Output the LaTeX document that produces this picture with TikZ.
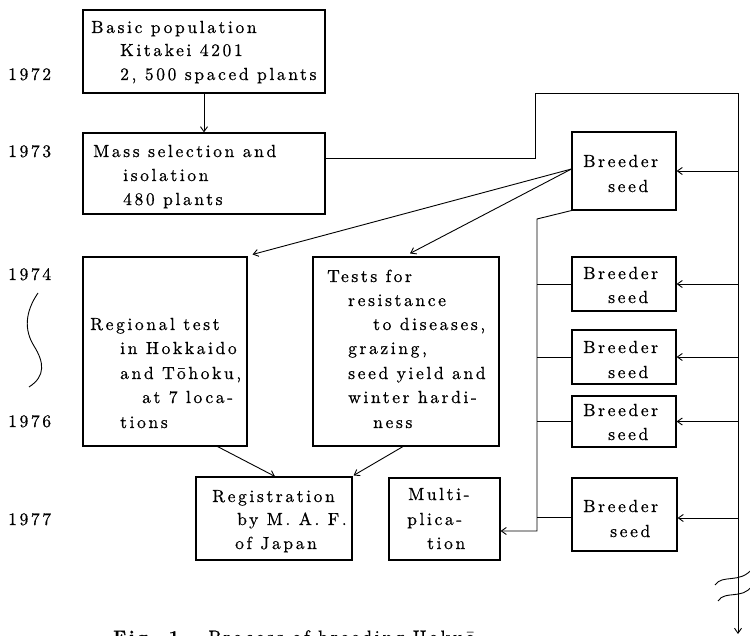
\documentclass[tikz,border=0pt]{standalone}
\usepackage{fontspec}
\setmainfont{lmroman10-regular.otf}[BoldFont=lmroman10-bold.otf, LetterSpace=15, FakeBold=0.7]
\usetikzlibrary{arrows.meta}
\begin{document}
\begin{tikzpicture}[x=1pt,y=-1pt,
  bx/.style={draw, line width=1.1pt, inner sep=0pt},
  tx/.style={anchor=base west, inner sep=0pt, font=\fontsize{17.5}{20}\selectfont},
  ln/.style={line width=0.9pt},
  arr/.style={ln, -{Straight Barb[length=5pt,width=7pt]}}]
\useasboundingbox (0,0) rectangle (750,636);
% years
\node[tx] (y72) at (8,80) {1972};
\node[tx] (y73) at (8,157) {1973};
\node[tx] (y74) at (8,280) {1974};
\node[tx] (y76) at (8,427) {1976};
\node[tx] (y77) at (8,525) {1977};
\draw[ln] (38,293) .. controls (25,312) and (24,330) .. (34,346) .. controls (44,362) and (46,376) .. (29,387);
% boxes
\node[bx, minimum width=242pt, minimum height=83pt] (basic) at (204,51.5) {};
\node[bx, minimum width=242pt, minimum height=81pt] (mass) at (204,173.5) {};
\node[bx, minimum width=164pt, minimum height=189pt] (regional) at (165,351.5) {};
\node[bx, minimum width=186pt, minimum height=189pt] (tests) at (406,351.5) {};
\node[bx, minimum width=156pt, minimum height=83pt] (reg) at (274,518.5) {};
\node[bx, minimum width=111pt, minimum height=82pt] (multi) at (444.5,519) {};
\node[bx, minimum width=104pt, minimum height=78pt] (b1) at (624,171) {};
\node[bx, minimum width=104pt, minimum height=54pt] (b2) at (624,284) {};
\node[bx, minimum width=104pt, minimum height=54pt] (b3) at (624,357) {};
\node[bx, minimum width=104pt, minimum height=51pt] (b4) at (624,421.5) {};
\node[bx, minimum width=105pt, minimum height=73pt] (b5) at (624.5,514.5) {};
% texts
\node[tx] (t1a) at (91,33) {Basic population};
\node[tx] (t1b) at (120,56) {Kitakei 4201};
\node[tx] (t1c) at (120,80) {2, 500 spaced plants};
\node[tx] (t2a) at (93,157) {Mass selection and};
\node[tx] (t2b) at (123,181) {isolation};
\node[tx] (t2c) at (123,205) {480 plants};
\node[tx] (t3a) at (90,330) {Regional test};
\node[tx] (t3b) at (120,354) {in Hokkaido};
\node[tx] (t3c) at (120,379) {and Tōhoku,};
\node[tx] (t3d) at (142,403) {at 7 loca-};
\node[tx] (t3e) at (120,428) {tions};
\node[tx] (t4a) at (327,282) {Tests for};
\node[tx] (t4b) at (348,306) {resistance};
\node[tx] (t4c) at (373,330) {to diseases,};
\node[tx] (t4d) at (348,354) {grazing,};
\node[tx] (t4e) at (348,379) {seed yield and};
\node[tx] (t4f) at (348,403) {winter hardi-};
\node[tx] (t4g) at (373,428) {ness};
\node[tx] (t5a) at (212,502) {Registration};
\node[tx] (t5b) at (237,525) {by M. A. F.};
\node[tx] (t5c) at (235,549) {of Japan};
\node[tx] (t6a) at (408,500) {Multi-};
\node[tx] (t6b) at (407,525) {plica-};
\node[tx] (t6c) at (427,549) {tion};
\node[tx] (s1a) at (583,167) {Breeder};
\node[tx] (s1b) at (608,192) {seed};
\node[tx] (s2a) at (583,279) {Breeder};
\node[tx] (s2b) at (608,303) {seed};
\node[tx] (s3a) at (583,353) {Breeder};
\node[tx] (s3b) at (608,378) {seed};
\node[tx] (s4a) at (583,416) {Breeder};
\node[tx] (s4b) at (608,440) {seed};
\node[tx] (s5a) at (583,512) {Breeder};
\node[tx] (s5b) at (610,537) {seed};
% caption
\node[tx, font=\fontsize{18}{20}\selectfont] (cap) at (113,643) {\textbf{Fig. 1.}\quad Process of breeding Hokuō};
% coordinates
\coordinate (tl) at (535,158);
\coordinate (tt) at (535,93);
\coordinate (tr) at (738,93);
\coordinate (bot) at (738,634);
\coordinate (k1) at (537,219);
\coordinate (k2) at (537,531);
% connectors
\draw[arr] (basic.south) -- (mass.north);
\draw[arr] (mass.east |- tl) -- (tl) -- (tt) -- (tr) -- (bot);
\draw[arr] (tr |- b1.east) -- (b1.east);
\draw[arr] (tr |- b2.east) -- (b2.east);
\draw[arr] (tr |- b3.east) -- (b3.east);
\draw[arr] (tr |- b4.east) -- (b4.east);
\draw[arr] ([yshift=-3.5pt]b5.east -| tr) -- ([yshift=-3.5pt]b5.east);
\draw[arr] ([yshift=2pt]b1.west) -- ([xshift=5pt,yshift=2pt]regional.north east);
\draw[arr] ([yshift=2pt]b1.west) -- ([xshift=4pt,yshift=3pt]tests.north);
\draw[arr] (b1.south west) -- (k1) -- (k2) -- (k2 -| multi.east);
\draw[ln] (k1 |- b2.west) -- (b2.west);
\draw[ln] (k1 |- b3.west) -- (b3.west);
\draw[ln] (k1 |- b4.west) -- (b4.west);
\draw[ln] ([yshift=-2.5pt]b5.west -| k1) -- ([yshift=-2.5pt]b5.west);
\draw[arr] ([xshift=-30pt]regional.south east) -- ([xshift=1pt]reg.north);
\draw[arr] ([xshift=-3pt]tests.south) -- ([xshift=1pt,yshift=1pt]reg.north east);
% break marks
\draw[ln] (715,585) .. controls (722,574) and (740,584) .. (752,569);
\draw[ln] (718,601) .. controls (725,590) and (742,600) .. (752,586);
\end{tikzpicture}
\end{document}
